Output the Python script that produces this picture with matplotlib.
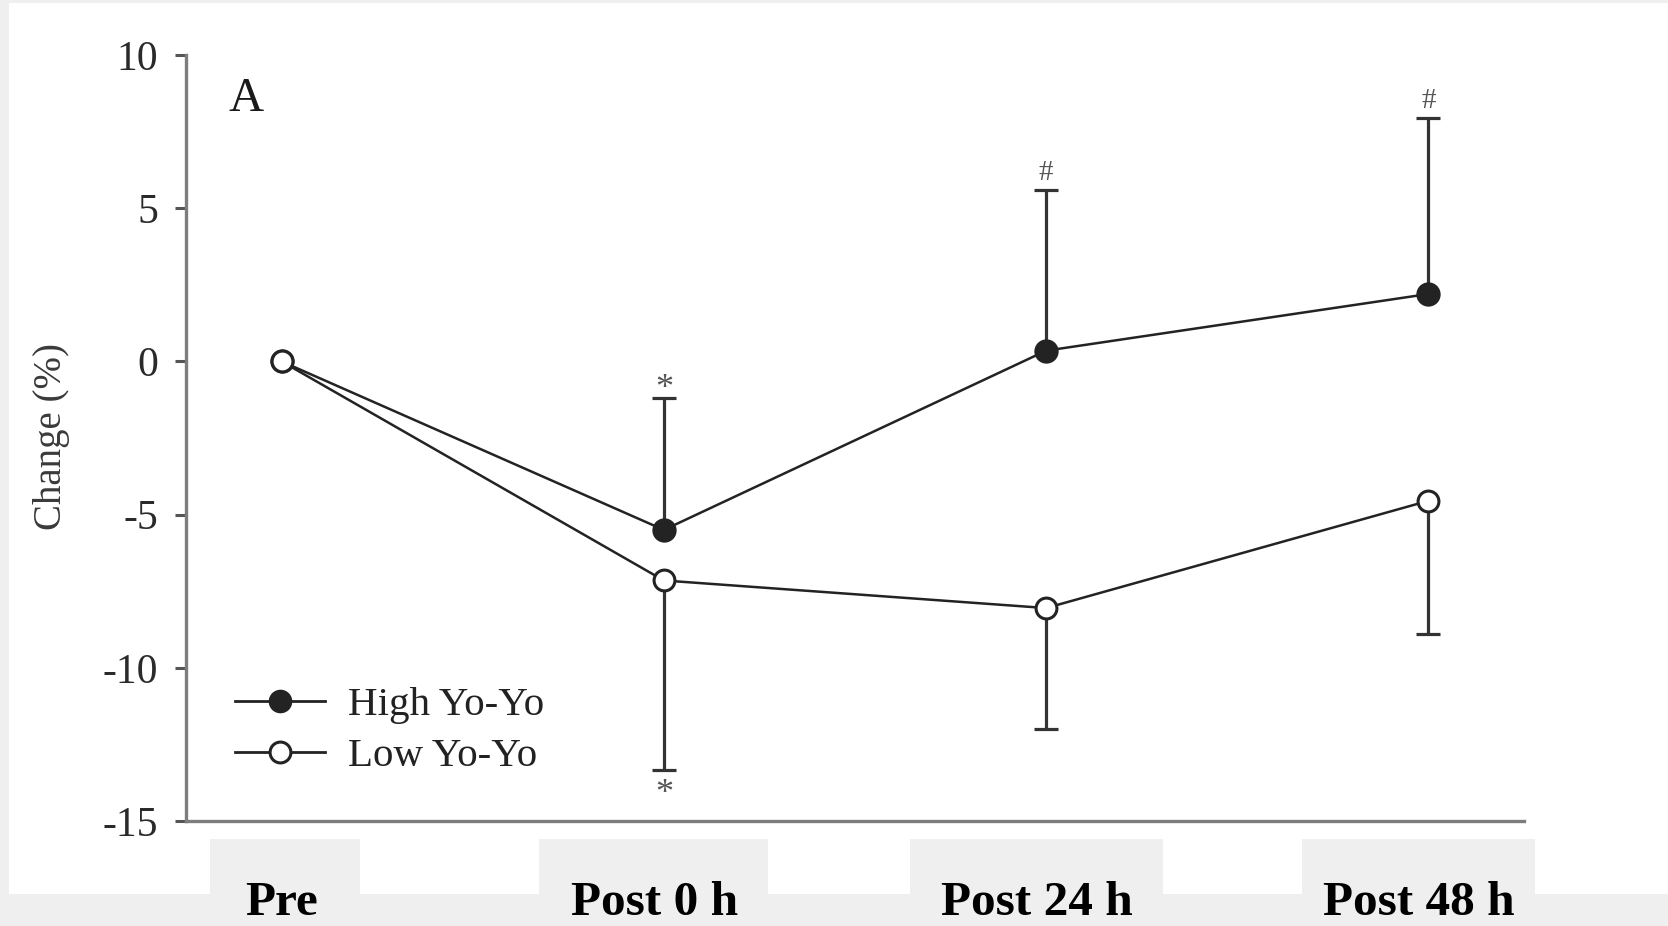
import matplotlib
matplotlib.use("Agg")
import matplotlib.pyplot as plt
import numpy as np
from matplotlib.patches import Rectangle
from matplotlib.lines import Line2D
from matplotlib.transforms import ScaledTranslation

# ---- data ----
timepoints = ["Pre", "Post 0 h", "Post 24 h", "Post 48 h"]
high_mean = [0.0, -5.5, 0.35, 2.2]
high_err = [0.0, 4.3, 5.25, 5.75]      # upward SD
low_mean = [0.0, -7.15, -8.05, -4.55]
low_err = [0.0, 6.2, 3.95, 4.35]       # downward SD
high_sig = ["", "*", "#", "#"]
low_sig = ["", "*", "", ""]
yticks = [-15, -10, -5, 0, 5, 10]
ytick_labels = ["-15", "-10", "-5", "0", "5", "10"]
series_labels = ["High Yo-Yo", "Low Yo-Yo"]
panel_label = "A"
ylabel = "Change (%)"

W, H = 1668, 926
fig = plt.figure(figsize=(W / 100, H / 100), dpi=100, facecolor="#efefef")
plt.rcParams["font.family"] = ["Liberation Serif", "DejaVu Serif"]

def px(x0, y0, x1, y1):
    # pixel box (top-left origin) -> figure fraction rect
    return (x0 / W, 1 - y1 / H, (x1 - x0) / W, (y1 - y0) / H)

# white panel and gray boxes behind labels
r = px(8.5, 3, W, 894)
fig.patches.append(Rectangle(r[:2], r[2], r[3], transform=fig.transFigure,
                             facecolor="white", edgecolor="none", zorder=-2))
for (a, b) in [(210, 360), (539, 768), (910, 1163), (1302, 1535)]:
    r = px(a, 839, b, 894)
    fig.patches.append(Rectangle(r[:2], r[2], r[3], transform=fig.transFigure,
                                 facecolor="#efefef", edgecolor="none", zorder=-1))

ax = fig.add_axes([186 / W, 1 - 821 / H, (1524 - 186) / W, (821 - 55) / H])
ax.set_zorder(2)
ax.set_facecolor("none")
x = np.arange(len(timepoints))
hm, he = np.array(high_mean), np.array(high_err)
lm, le = np.array(low_mean), np.array(low_err)

dark = "#232323"
ebc = "#333333"
ax.plot(x, hm, color=dark, lw=1.8, zorder=3)
ax.plot(x, lm, color=dark, lw=1.8, zorder=3)

# one-sided error bars (skip Pre, which has no SD)
sel = he > 0
ax.vlines(x[sel], hm[sel], hm[sel] + he[sel], color=ebc, lw=2.3, zorder=2)
ax.plot(x[sel], hm[sel] + he[sel], ls="none", marker="_", ms=17, mew=2.3, color=ebc, zorder=2)
sel = le > 0
ax.vlines(x[sel], lm[sel] - le[sel], lm[sel], color=ebc, lw=2.3, zorder=2)
ax.plot(x[sel], lm[sel] - le[sel], ls="none", marker="_", ms=17, mew=2.3, color=ebc, zorder=2)

ax.plot(x, hm, ls="none", marker="o", ms=16, mfc=dark, mec=dark, mew=1.5, zorder=4)
ax.plot(x, lm, ls="none", marker="o", ms=15, mfc="white", mec=dark, mew=2.2, zorder=5)

for xi, m, e, s in zip(x, hm, he, high_sig):
    if s:
        ax.annotate(s, (xi, m + e), xytext=(0, 6 if s == "*" else 12),
                    textcoords="offset points", ha="center", va="center",
                    fontsize=26 if s == "*" else 21, color="#555555")
for xi, m, e, s in zip(x, lm, le, low_sig):
    if s:
        ax.annotate(s, (xi, m - e), xytext=(0, -17), textcoords="offset points",
                    ha="center", va="center", fontsize=26, color="#555555")

ax.set_xlim(-0.25, 3.25)
ax.set_ylim(-15, 10)
ax.set_yticks(yticks)
ax.set_yticklabels(ytick_labels)
ax.set_xticks(x)
ax.set_xticklabels(timepoints, fontsize=35.5, fontweight="bold", color="black")
ax.tick_params(axis="x", length=0, pad=43)
for i, lab in enumerate(ax.get_xticklabels()):
    dx = 0 if i == 0 else -7
    lab.set_transform(lab.get_transform() + ScaledTranslation(dx / 72, 0, fig.dpi_scale_trans))
ax.tick_params(axis="y", length=8, width=2.2, color="#555555", pad=12,
               labelsize=30, labelcolor="#2a2a2a")
for side in ["top", "right"]:
    ax.spines[side].set_visible(False)
for side in ["left", "bottom"]:
    ax.spines[side].set_color("#7d7d7d")
    ax.spines[side].set_linewidth(2.4)

ax.text(0.045, 0.942, panel_label, transform=ax.transAxes, fontsize=35,
        ha="center", va="center", color="#1a1a1a")
fig.text(51 / W, 1 - 436 / H, ylabel, rotation=90, ha="center", va="center",
         fontsize=28, color="#3a3a3a")

handles = [
    Line2D([], [], color=dark, lw=2, marker="o", ms=16, mfc=dark, mec=dark),
    Line2D([], [], color=dark, lw=2, marker="o", ms=15, mfc="white", mec=dark, mew=2.2),
]
ax.legend(handles, series_labels, loc="center left", bbox_to_anchor=(0.0366, 0.118),
          frameon=False, fontsize=29.5, handlelength=2.2, handletextpad=0.55,
          labelspacing=0.33, borderpad=0, borderaxespad=0, labelcolor="#222222")

fig.savefig("out.png", dpi=100, facecolor=fig.get_facecolor())
